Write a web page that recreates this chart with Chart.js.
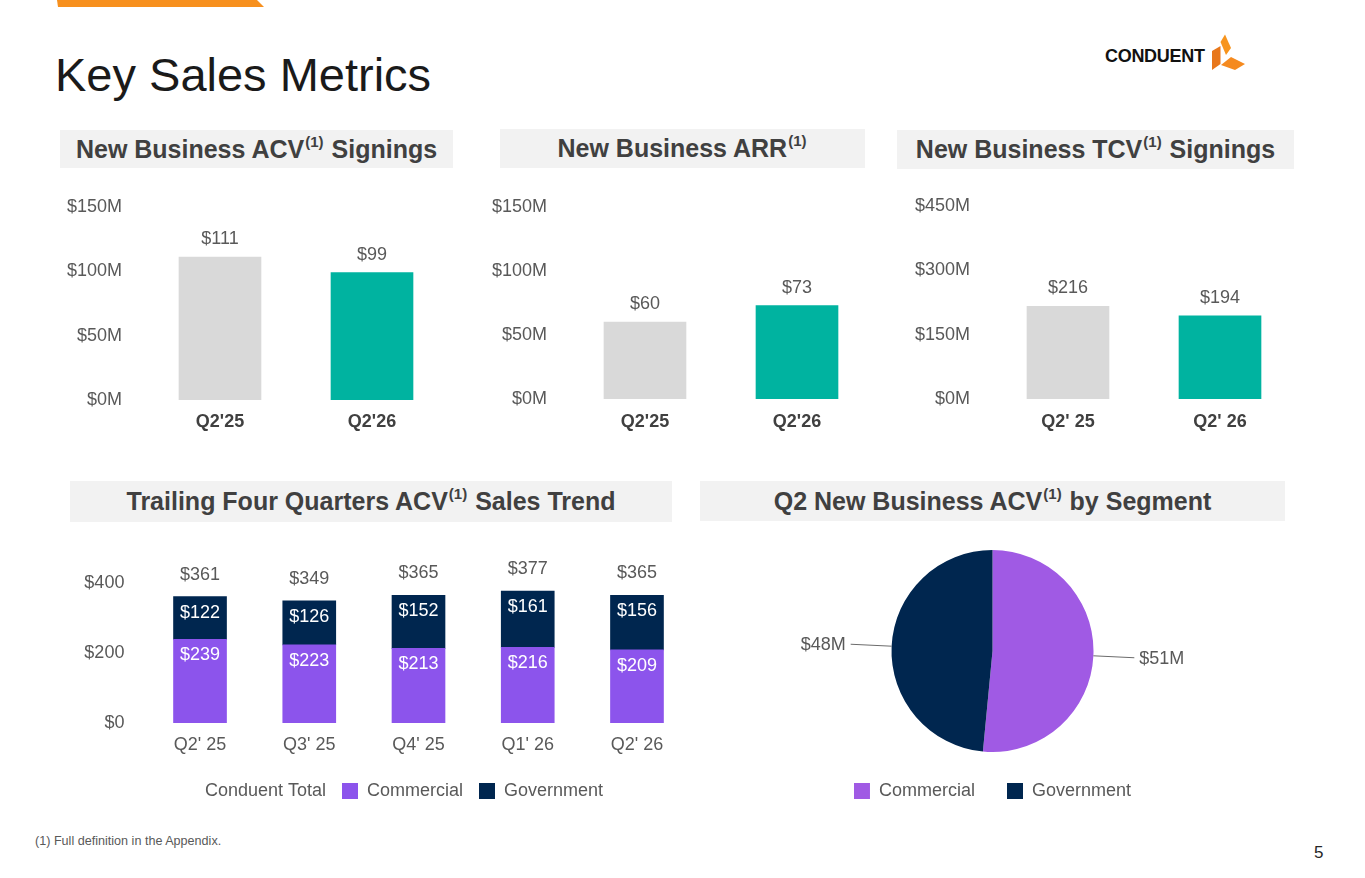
<!DOCTYPE html>
<html>
<head>
<meta charset="utf-8">
<script src="https://cdn.jsdelivr.net/npm/chart.js@4.4.1/dist/chart.umd.min.js"></script>
<style>
html,body{margin:0;padding:0;background:#fff;}
body{width:1365px;height:878px;position:relative;overflow:hidden;font-family:'Liberation Sans',Arial,Helvetica,sans-serif;}
.hdr{position:absolute;background:#F2F2F2;display:flex;align-items:center;justify-content:center;font-weight:bold;font-size:25px;color:#404040;white-space:nowrap;}
.hdr .sup{font-size:15px;position:relative;top:-8px;margin-left:1px;margin-right:1px;}
.box{position:absolute;}
.box canvas{display:block;}
#topbar{position:absolute;left:0;top:0;width:300px;height:8px;}
#title{position:absolute;left:55px;top:51px;font-size:47px;line-height:47px;color:#1a1a1a;white-space:nowrap;}
#logoText{position:absolute;left:1105px;top:46px;font-size:18px;line-height:20px;font-weight:bold;letter-spacing:-0.3px;color:#111;}
#logo{position:absolute;left:1205px;top:28px;}
#foot{position:absolute;left:35px;top:833px;font-size:12.6px;line-height:16px;color:#595959;white-space:nowrap;}
#page{position:absolute;left:1314px;top:843px;font-size:17px;line-height:20px;color:#262626;}
</style>
</head>
<body>
<svg id="topbar" width="300" height="8"><polygon points="57,0 257,0 264,7 58,7" fill="#F7901E"/></svg>
<div id="title">Key Sales Metrics</div>
<div id="logoText">CONDUENT</div>
<svg id="logo" width="50" height="50" viewBox="0 0 50 50">
  <polygon points="15.5,14 20,6.5 26,20 21,27" fill="#F7941D"/>
  <polygon points="7,23 15.5,18 15.5,36 7,42" fill="#E8771B"/>
  <polygon points="16,37 26,29 40,36 30,42" fill="#F58A1F"/>
</svg>

<div class="hdr" style="left:60px;top:130px;width:393px;height:38px;">New Business ACV<span class="sup">(1)</span>&nbsp;Signings</div>
<div class="hdr" style="left:500px;top:129px;width:365px;height:39px;">New Business ARR<span class="sup">(1)</span></div>
<div class="hdr" style="left:897px;top:130px;width:397px;height:39px;">New Business TCV<span class="sup">(1)</span>&nbsp;Signings</div>
<div class="hdr" style="left:70px;top:481px;width:602px;height:41px;">Trailing Four Quarters ACV<span class="sup">(1)</span>&nbsp;Sales Trend</div>
<div class="hdr" style="left:700px;top:481px;width:585px;height:40px;">Q2 New Business ACV<span class="sup">(1)</span>&nbsp;by Segment</div>

<div class="box" id="boxAcv"><canvas id="cAcv"></canvas></div>
<div class="box" id="boxArr"><canvas id="cArr"></canvas></div>
<div class="box" id="boxTcv"><canvas id="cTcv"></canvas></div>
<div class="box" id="boxTrend"><canvas id="cTrend"></canvas></div>
<div class="box" id="boxPie"><canvas id="cPie"></canvas></div>

<div id="foot">(1) Full definition in the Appendix.</div>
<div id="page">5</div>

<script>
// ---------------- DATA ----------------
const acvCategories = ["Q2'25", "Q2'26"];
const acvValues = [111, 99];
const acvTickMax = 150, acvTickStep = 50;

const arrCategories = ["Q2'25", "Q2'26"];
const arrValues = [60, 73];
const arrTickMax = 150, arrTickStep = 50;

const tcvCategories = ["Q2' 25", "Q2' 26"];
const tcvValues = [216, 194];
const tcvTickMax = 450, tcvTickStep = 150;

const trendCategories = ["Q2' 25", "Q3' 25", "Q4' 25", "Q1' 26", "Q2' 26"];
const trendCommercial = [239, 223, 213, 216, 209];
const trendGovernment = [122, 126, 152, 161, 156];
const trendTotal = [361, 349, 365, 377, 365];
const trendTickMax = 400, trendTickStep = 200;

const segmentLabels = ["Commercial", "Government"];
const segmentValues = [51, 48];

// ---------------- STYLE ----------------
const FONT = "'Liberation Sans', Arial, Helvetica, sans-serif";
const FS = 18;
const GRAY_BAR = '#D9D9D9';
const TEAL = '#00B3A0';
const BAR_PURPLE = '#8C54EC';
const PIE_PURPLE = '#A05AE4';
const NAVY = '#00264F';
const TEXT = '#595959';
const DARK = '#404040';

Chart.defaults.font.family = FONT;
Chart.defaults.font.size = FS;
Chart.defaults.color = TEXT;
Chart.defaults.animation = false;

function place(id, g) {
  const el = document.getElementById(id);
  el.style.left = g.left + 'px';
  el.style.top = g.top + 'px';
  el.style.width = g.width + 'px';
  el.style.height = g.height + 'px';
  return el.querySelector('canvas');
}

function labelPlugin(items) {
  return {
    id: 'valueLabels',
    afterDatasetsDraw(chart) {
      const ctx = chart.ctx;
      ctx.save();
      ctx.textAlign = 'center';
      ctx.textBaseline = 'middle';
      items.forEach(it => {
        const meta = chart.getDatasetMeta(it.dataset);
        const vals = chart.data.datasets[it.dataset].data;
        ctx.font = FS + 'px ' + FONT;
        ctx.fillStyle = it.color;
        meta.data.forEach((el, i) => {
          const p = el.getProps(['x', 'y'], true);
          ctx.fillText(it.prefix + vals[i], p.x, p.y + it.dy);
        });
      });
      ctx.restore();
    }
  };
}

function pieLabelPlugin(cfg) {
  return {
    id: 'pieLabels',
    afterDatasetsDraw(chart) {
      const ctx = chart.ctx;
      const meta = chart.getDatasetMeta(0);
      const vals = chart.data.datasets[0].data;
      ctx.save();
      ctx.font = FS + 'px ' + FONT;
      ctx.fillStyle = TEXT;
      ctx.strokeStyle = '#6b6b6b';
      ctx.lineWidth = 1;
      ctx.textBaseline = 'middle';
      meta.data.forEach((arc, i) => {
        const p = arc.getProps(['x', 'y', 'startAngle', 'endAngle', 'outerRadius'], true);
        const a = (p.startAngle + p.endAngle) / 2;
        const c = Math.cos(a), s = Math.sin(a);
        const x1 = p.x + c * p.outerRadius, y1 = p.y + s * p.outerRadius;
        const x2 = p.x + c * (p.outerRadius + cfg.lineLen), y2 = p.y + s * (p.outerRadius + cfg.lineLen);
        ctx.beginPath();
        ctx.moveTo(x1, y1);
        ctx.lineTo(x2, y2);
        ctx.stroke();
        ctx.textAlign = c >= 0 ? 'left' : 'right';
        ctx.fillText('$' + vals[i] + 'M', x2 + (c >= 0 ? cfg.gap : -cfg.gap), y2 + 1);
      });
      ctx.restore();
    }
  };
}

function makeSimpleBar(id, g, cats, vals, max, step) {
  const canvas = place(id, g);
  const padR = g.left + g.width - g.caRight;
  const padT = g.caTop - g.top;
  const yW = g.caLeft - g.left;
  const xH = g.top + g.height - g.caBottom;
  return new Chart(canvas, {
    type: 'bar',
    data: {
      labels: cats,
      datasets: [{ data: vals, backgroundColor: [GRAY_BAR, TEAL], borderWidth: 0, barThickness: g.barW }]
    },
    options: {
      responsive: true, maintainAspectRatio: false, animation: false,
      layout: { padding: { left: 0, right: padR, top: padT, bottom: 0 } },
      plugins: { legend: { display: false }, tooltip: { enabled: false } },
      scales: {
        x: {
          grid: { display: false, drawTicks: false }, border: { display: false },
          ticks: { padding: g.xPad, color: DARK, font: { size: FS, weight: 'bold' } },
          afterFit(s) { s.height = xH; }
        },
        y: {
          min: 0, max: max,
          grid: { display: false, drawTicks: false }, border: { display: false },
          ticks: { stepSize: step, padding: g.yPad, color: TEXT, font: { size: FS }, callback: v => '$' + v + 'M' },
          afterFit(s) { s.width = yW; }
        }
      }
    },
    plugins: [labelPlugin([{ dataset: 0, prefix: '$', dy: -18, color: TEXT }])]
  });
}

// ---------------- LAYOUT ----------------
const geoAcv = { left: 60, top: 171, width: 400, height: 269, caLeft: 144, caRight: 448, caTop: 207, caBottom: 400, barW: 82, xPad: 11, yPad: 22 };
const geoArr = { left: 480, top: 171, width: 405, height: 269, caLeft: 569, caRight: 873, caTop: 207, caBottom: 399, barW: 82, xPad: 12, yPad: 22 };
const geoTcv = { left: 890, top: 170, width: 420, height: 270, caLeft: 992, caRight: 1296, caTop: 206, caBottom: 399, barW: 82, xPad: 12, yPad: 22 };

makeSimpleBar('boxAcv', geoAcv, acvCategories, acvValues, acvTickMax, acvTickStep);
makeSimpleBar('boxArr', geoArr, arrCategories, arrValues, arrTickMax, arrTickStep);
makeSimpleBar('boxTcv', geoTcv, tcvCategories, tcvValues, tcvTickMax, tcvTickStep);

// Trend (stacked)
(function () {
  const g = { left: 60, top: 545, width: 640, height: 265 };
  const caLeft = 145.4, caRight = 691.6, caTop = 583, caBottom = 723, legendTop = 766;
  const legendCenter = 391.5;
  const padL = 20;                                   // y-axis box starts at 80
  const boxL = g.left + padL;
  const boxR = 2 * legendCenter - boxL;              // legend spans boxL..boxR
  const rightW = boxR - caRight;                      // spacer axis on the right
  const padR = g.left + g.width - boxR;
  const padT = caTop - g.top, padB = 0;
  const yW = caLeft - boxL;
  const xH = legendTop - caBottom;
  const canvas = place('boxTrend', g);
  new Chart(canvas, {
    type: 'bar',
    data: {
      labels: trendCategories,
      datasets: [
        { type: 'line', label: 'Conduent Total', data: trendTotal, showLine: false, pointRadius: 0, pointHoverRadius: 0,
          borderColor: 'rgba(0,0,0,0)', backgroundColor: 'rgba(0,0,0,0)' },
        { label: 'Commercial', data: trendCommercial, backgroundColor: BAR_PURPLE, borderWidth: 0, barThickness: 53 },
        { label: 'Government', data: trendGovernment, backgroundColor: NAVY, borderWidth: 0, barThickness: 53 }
      ]
    },
    options: {
      responsive: true, maintainAspectRatio: false, animation: false,
      layout: { padding: { left: padL, right: padR, top: padT, bottom: padB } },
      plugins: {
        tooltip: { enabled: false },
        legend: {
          position: 'bottom',
          labels: {
            boxWidth: 16, boxHeight: 16, padding: 16, color: TEXT, font: { size: FS },
            generateLabels(chart) {
              const items = Chart.defaults.plugins.legend.labels.generateLabels(chart);
              items.forEach(it => {
                if (it.datasetIndex === 0) {
                  it.fillStyle = 'rgba(0,0,0,0)';
                  it.strokeStyle = 'rgba(0,0,0,0)';
                }
                it.lineWidth = 0;
              });
              return items;
            }
          }
        }
      },
      scales: {
        x: {
          stacked: true,
          grid: { display: false, drawTicks: false }, border: { display: false },
          ticks: { padding: 11, color: TEXT, font: { size: FS } },
          afterFit(s) { s.height = xH; }
        },
        y: {
          stacked: true, min: 0, max: trendTickMax,
          grid: { display: false, drawTicks: false }, border: { display: false },
          ticks: { stepSize: trendTickStep, padding: 21, color: TEXT, font: { size: FS }, callback: v => '$' + v },
          afterFit(s) { s.width = yW; }
        },
        spacer: {
          type: 'linear', position: 'right', display: true,
          grid: { display: false, drawTicks: false }, border: { display: false },
          ticks: { display: false },
          afterFit(s) { s.width = rightW; }
        }
      }
    },
    plugins: [labelPlugin([
      { dataset: 0, prefix: '$', dy: -22, color: TEXT },
      { dataset: 1, prefix: '$', dy: 16, color: '#FFFFFF' },
      { dataset: 2, prefix: '$', dy: 16, color: '#FFFFFF' }
    ])]
  });
})();

// Pie
(function () {
  const g = { left: 700, top: 545, width: 585, height: 265 };
  const canvas = place('boxPie', g);
  new Chart(canvas, {
    type: 'pie',
    data: {
      labels: segmentLabels,
      datasets: [{ data: segmentValues, backgroundColor: [PIE_PURPLE, NAVY], borderWidth: 0, radius: 101 }]
    },
    options: {
      responsive: true, maintainAspectRatio: false, animation: false,
      layout: { padding: { left: 0, right: 0, top: 7, bottom: 0 } },
      plugins: {
        tooltip: { enabled: false },
        legend: {
          position: 'bottom',
          labels: { boxWidth: 16, boxHeight: 16, padding: 32, color: TEXT, font: { size: FS } }
        }
      }
    },
    plugins: [pieLabelPlugin({ lineLen: 41, gap: 5 })]
  });
})();
</script>
</body>
</html>
